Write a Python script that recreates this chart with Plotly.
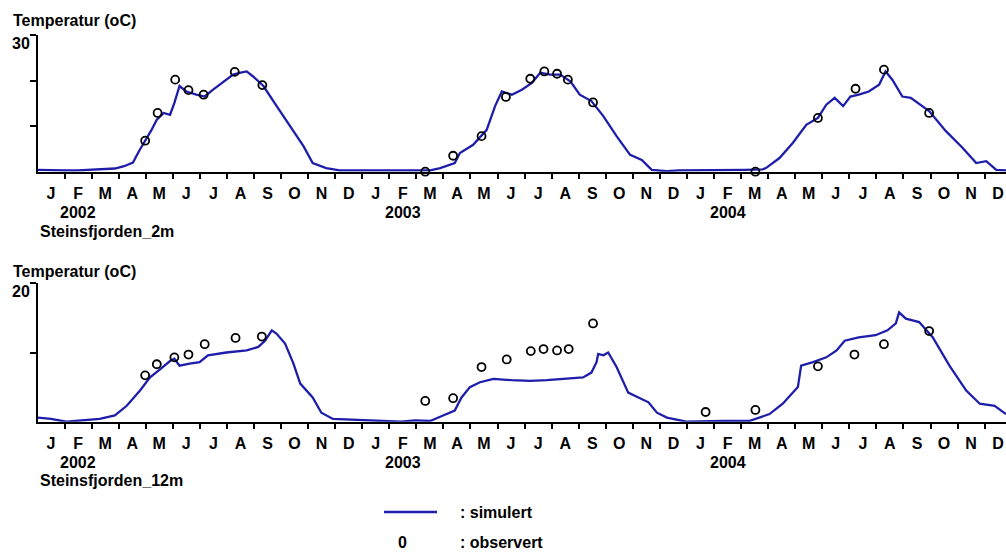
import plotly.graph_objects as go

# ---------------- data ----------------
# x = months since 1 Jan 2002 (0 = start of Jan 2002, 36 = end of Dec 2004)
month_letters = ["J", "F", "M", "A", "M", "J", "J", "A", "S", "O", "N", "D"]
years = ["2002", "2003", "2004"]
stations = ["Steinsfjorden_2m", "Steinsfjorden_12m"]

# Steinsfjorden 2 m : simulated temperature
top_sim_m = [0, 0.5, 1, 1.5, 2, 2.5, 2.86, 3.2, 3.53, 3.75, 3.98, 4.2, 4.41, 4.66, 4.9,
             5.06, 5.25, 5.50, 5.87, 6.18, 6.49, 6.74, 6.98, 7.23, 7.47,
             7.73, 7.97, 8.35, 8.84, 9.34, 9.83, 10.17, 10.67, 11.17, 11.54,
             11.94, 12.44, 12.94, 13.44, 13.94, 14.51, 14.88, 15.42, 15.61, 16.10,
             16.60, 16.91, 17.16, 17.53, 17.90, 18.27, 18.58, 18.95, 19.32, 19.70,
             20.04, 20.47, 20.91, 21.40, 21.90, 22.33, 22.70, 23.26, 23.69, 24.19,
             24.69, 25.16, 25.66, 26.16, 26.80, 26.92, 27.42, 27.91, 28.41, 28.84,
             29.15, 29.46, 29.77, 30.04, 30.35, 30.72, 31.10, 31.34, 31.59, 31.96,
             32.27, 32.95, 33.57, 34.19, 34.69, 35.06, 35.43, 35.79]
top_sim_t = [0.4, 0.3, 0.3, 0.3, 0.4, 0.5, 0.7, 1.2, 2.0, 4.5, 6.7, 9.0, 11.4, 12.9, 12.5,
             15.1, 18.8, 17.6, 16.9, 16.5, 18.0, 19.1, 20.2, 21.3, 21.7,
             22.0, 20.9, 18.8, 14.4, 10.0, 5.6, 1.9, 0.8, 0.3, 0.3,
             0.2, 0.3, 0.3, 0.2, 0.3, 0.3, 0.8, 1.9, 4.1, 5.9,
             9.2, 14.4, 17.6, 16.9, 18.0, 19.5, 21.7, 21.3, 21.3, 19.8,
             16.9, 15.5, 12.2, 7.8, 3.7, 2.6, 0.4, 0.1, 0.3, 0.3,
             0.4, 0.3, 0.4, 0.4, 0.5, 0.8, 3.0, 6.3, 10.3, 11.8,
             14.7, 16.2, 14.4, 16.5, 16.9, 17.6, 19.1, 22.0, 20.2, 16.5,
             16.2, 13.3, 8.9, 5.2, 1.9, 2.3, 0.4, 0.3]

# Steinsfjorden 2 m : observed temperature
top_obs_m = [3.98, 4.44, 5.09, 5.58, 6.14, 7.29, 8.31, 14.33, 15.36, 16.41, 17.31,
             18.21, 18.73, 19.20, 19.60, 20.53, 24.69, 26.53, 28.84, 30.23, 31.28, 32.95]
top_obs_t = [6.8, 12.9, 20.2, 17.9, 16.9, 21.9, 19.0, 0.0, 3.5, 7.8, 16.4,
             20.4, 22.0, 21.5, 20.2, 15.2, -0.2, 0.0, 11.8, 18.2, 22.4, 12.9]

# Steinsfjorden 12 m : simulated temperature
bot_sim_m = [0, 0.5, 1.07, 1.7, 2.3, 2.86, 3.3, 3.79, 4.16, 4.54,
             4.91, 5.06, 5.25, 5.62, 5.99, 6.30, 6.98, 7.73, 8.16, 8.41,
             8.66, 8.84, 9.15, 9.46, 9.71, 10.17, 10.49, 10.92, 11.44, 11.94,
             12.44, 12.94, 13.44, 13.94, 14.51, 14.99, 15.42, 15.67, 15.98, 16.35,
             16.85, 17.52, 18.21, 18.82, 19.45, 20.16, 20.47, 20.66, 20.72, 20.91,
             21.09, 21.40, 21.83, 22.21, 22.58, 22.89, 23.26, 23.98, 24.69, 25.36,
             26.30, 26.55, 27.05, 27.54, 27.91, 28.10, 28.22, 28.66, 29.15, 29.53,
             29.83, 30.35, 30.97, 31.41, 31.72, 31.84, 32.09, 32.58, 33.08, 33.70,
             34.32, 34.82, 35.37, 35.79]
bot_sim_t = [0.6, 0.4, 0.0, 0.2, 0.4, 0.9, 2.3, 4.5, 6.4, 7.6,
             8.8, 9.1, 8.1, 8.4, 8.6, 9.6, 10.0, 10.3, 10.8, 11.7,
             13.2, 12.7, 11.3, 8.4, 5.5, 3.5, 1.3, 0.4, 0.3, 0.3,
             0.2, 0.1, 0.0, 0.2, 0.1, 0.9, 1.6, 3.5, 5.0, 5.7,
             6.2, 6.0, 5.9, 6.0, 6.2, 6.4, 7.1, 8.6, 9.8, 9.6,
             10.0, 7.9, 4.2, 3.5, 2.8, 1.3, 0.6, 0.0, 0.1, 0.1,
             0.1, 0.4, 1.1, 2.6, 4.2, 5.0, 8.1, 8.6, 9.3, 10.3,
             11.7, 12.2, 12.5, 13.2, 14.2, 15.8, 14.9, 14.4, 12.2, 8.1,
             4.5, 2.6, 2.3, 1.1]

# Steinsfjorden 12 m : observed temperature
bot_obs_m = [3.98, 4.41, 5.06, 5.58, 6.18, 7.32, 8.29, 14.33, 15.36, 16.41, 17.34,
             18.23, 18.70, 19.20, 19.63, 20.53, 24.69, 26.53, 28.84, 30.19, 31.28, 32.95]
bot_obs_t = [6.7, 8.3, 9.3, 9.7, 11.2, 12.1, 12.3, 3.0, 3.4, 7.9, 9.0,
             10.2, 10.5, 10.3, 10.5, 14.2, 1.4, 1.7, 8.0, 9.7, 11.2, 13.1]

assert len(top_sim_m) == len(top_sim_t)
assert len(bot_sim_m) == len(bot_sim_t)
assert len(top_obs_m) == len(top_obs_t)
assert len(bot_obs_m) == len(bot_obs_t)

# ---------------- styling ----------------
W, H = 1006, 553
SIM_COLOR = "#1e1eaa"
FONT = "Liberation Sans, Arial, sans-serif"
FS = 16


def py(p):
    return 1 - p / H


def px(p):
    return p / W


def f():
    return dict(family=FONT, size=FS, color="black", weight="bold")


fig = go.Figure()

obs_marker = dict(symbol="circle-open", size=8, color="black", line=dict(width=1.8, color="black"))

fig.add_trace(go.Scatter(x=top_sim_m, y=top_sim_t, mode="lines", name="simulert",
                         line=dict(color=SIM_COLOR, width=2.3), xaxis="x", yaxis="y"))
fig.add_trace(go.Scatter(x=top_obs_m, y=top_obs_t, mode="markers", name="observert",
                         marker=obs_marker, cliponaxis=False, xaxis="x", yaxis="y"))
fig.add_trace(go.Scatter(x=bot_sim_m, y=bot_sim_t, mode="lines", name="simulert",
                         line=dict(color=SIM_COLOR, width=2.3), xaxis="x2", yaxis="y2"))
fig.add_trace(go.Scatter(x=bot_obs_m, y=bot_obs_t, mode="markers", name="observert",
                         marker=obs_marker, cliponaxis=False, xaxis="x2", yaxis="y2"))

tickvals = [i + 0.5 for i in range(36)]
ticktext = month_letters * 3


def xaxis_cfg(anchor):
    return dict(domain=[px(38), 1], range=[0.02, 35.79], anchor=anchor,
                showline=True, linecolor="black", linewidth=2,
                tickmode="array", tickvals=tickvals, ticktext=ticktext,
                ticks="", ticklabelstandoff=6,
                tickfont=f(),
                showgrid=False, zeroline=False, fixedrange=True,
                minor=dict(ticks="outside", ticklen=5, tickwidth=2, tickcolor="black",
                           tickmode="linear", tick0=0, dtick=1, showgrid=False))


def yaxis_cfg(anchor, dom, rng, tv):
    return dict(domain=dom, range=rng, anchor=anchor,
                showline=True, linecolor="black", linewidth=2,
                ticks="outside", ticklen=6, tickwidth=2, tickcolor="black",
                tickvals=tv, showticklabels=False,
                showgrid=False, zeroline=False, fixedrange=True)


fig.update_layout(
    width=W, height=H,
    margin=dict(l=0, r=0, t=0, b=0),
    paper_bgcolor="white", plot_bgcolor="white",
    showlegend=False,
    font=f(),
    xaxis=xaxis_cfg("y"),
    yaxis=yaxis_cfg("x", [py(171.7), py(35)], [0, 30], [10, 20, 30]),
    xaxis2=xaxis_cfg("y2"),
    yaxis2=yaxis_cfg("x2", [py(421.7), py(283.3)], [0, 20], [10, 20]),
)

ann = []


def txt(text, x, y, xanchor="left", xref="paper"):
    ann.append(dict(text=text, x=x, y=y, xref=xref, yref="paper", xanchor=xanchor,
                    yanchor="middle", showarrow=False, font=f()))


# axis titles / top tick labels
txt("Temperatur (oC)", px(11), py(21))
txt("30", px(10), py(43))
txt("Temperatur (oC)", px(11), py(272))
txt("20", px(10), py(291.5))

# year labels
for i, yr in enumerate(years):
    ann.append(dict(text=yr, x=1.5 + 12 * i, y=py(212), xref="x", yref="paper",
                    xanchor="center", yanchor="middle", showarrow=False, font=f()))
    ann.append(dict(text=yr, x=1.5 + 12 * i, y=py(462), xref="x2", yref="paper",
                    xanchor="center", yanchor="middle", showarrow=False, font=f()))

# station names
txt(stations[0], px(38), py(231))
txt(stations[1], px(38), py(480))

# legend
txt(": simulert", px(458), py(512))
txt("0", px(402), py(542), xanchor="center")
txt(": observert", px(458), py(542))

fig.update_layout(annotations=ann)
fig.add_shape(type="line", xref="paper", yref="paper",
              x0=px(384), x1=px(437), y0=py(512), y1=py(512),
              line=dict(color=SIM_COLOR, width=2.5))

fig.write_html("out.html", config={"displayModeBar": False},
               post_script="document.body.style.margin='0';document.body.style.overflow='hidden';")
